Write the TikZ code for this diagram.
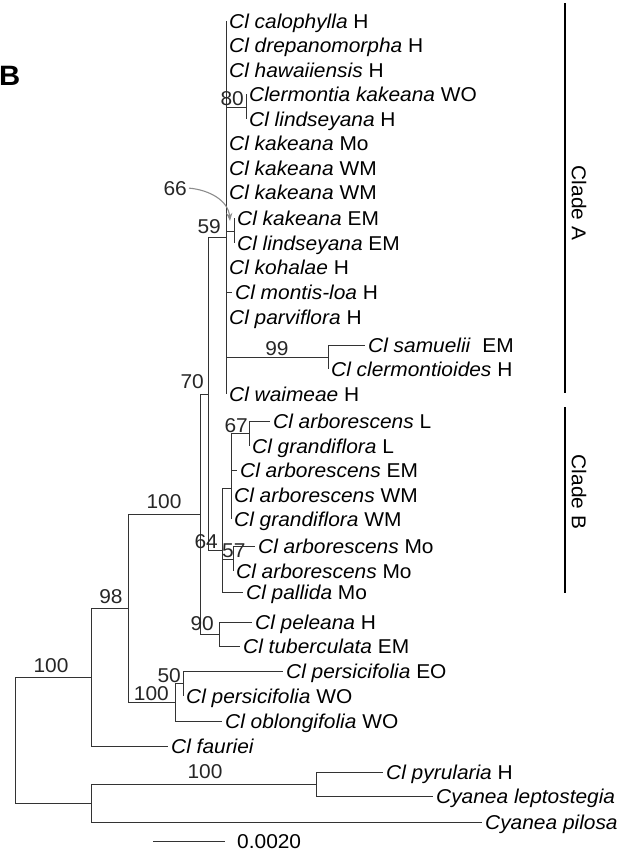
\documentclass[tikz,border=0pt]{standalone}
\usepackage{fontspec}
\setmainfont{Liberation Sans}[FakeStretch=1.045]
\usetikzlibrary{arrows.meta}

\begin{document}
\begin{tikzpicture}[x=1pt, y=-1pt,
    font=\fontsize{20}{23}\selectfont,
    branch/.style={line width=0.9pt, black!80},
    leaf/.style={anchor=base west, inner sep=0pt, xshift=3pt, yshift=-7pt},
    boot/.style={inner sep=0pt, black!85},
    cladebar/.style={line width=1.6pt, black}]
\useasboundingbox (0,0) rectangle (629,852);

% Internal nodes
\coordinate (root)   at (15,740);
\coordinate (ing)    at (91,677);
\coordinate (outg)   at (91,803);
\coordinate (n98)    at (128,608);
\coordinate (nP)     at (175,702);
\coordinate (n50)    at (183,683);
\coordinate (nAB)    at (200,514);
\coordinate (n90)    at (219,634);
\coordinate (n70)    at (208,394);
\coordinate (cladeA) at (226,237);
\coordinate (n80)    at (246,107);
\coordinate (n66)    at (234,231);
\coordinate (n99)    at (328,357);
\coordinate (cladeB) at (222,550);
\coordinate (nB1)    at (231,488);
\coordinate (n67)    at (249,433);
\coordinate (n57)    at (233,559);
\coordinate (nPL)    at (316,784);

% Tips
\coordinate (calo)   at (226,21);
\coordinate (drep)   at (226,45);
\coordinate (hawa)   at (226,70);
\coordinate (kakWO)  at (246,94);
\coordinate (lindH)  at (246,119);
\coordinate (kakMo)  at (226,143);
\coordinate (kakWMa) at (226,168);
\coordinate (kakWMb) at (226,192);
\coordinate (kakEM)  at (234,218);
\coordinate (lindEM) at (234,243);
\coordinate (koha)   at (226,267);
\coordinate (mont)   at (232,292);
\coordinate (parv)   at (226,317);
\coordinate (samu)   at (365,345);
\coordinate (cler)   at (328,369);
\coordinate (waim)   at (226,394);
\coordinate (arbL)   at (270,421);
\coordinate (graL)   at (249,446);
\coordinate (arbEM)  at (237,470);
\coordinate (arbWM)  at (231,495);
\coordinate (graWM)  at (231,519);
\coordinate (arbMoa) at (255,546);
\coordinate (arbMob) at (233,571);
\coordinate (pall)   at (243,592);
\coordinate (pele)   at (252,622);
\coordinate (tube)   at (240,646);
\coordinate (persEO) at (283,671);
\coordinate (persWO) at (183,696);
\coordinate (oblo)   at (222,721);
\coordinate (faur)   at (168,746);
\coordinate (pyru)   at (383,772);
\coordinate (lept)   at (433,796);
\coordinate (pilo)   at (482,822);

% Branches
\draw[branch] (root) |- (ing) (root) |- (outg)
    (ing) |- (n98) (ing) |- (faur)
    (n98) |- (nAB) (n98) |- (nP)
    (nP) |- (n50) (nP) |- (oblo)
    (n50) |- (persEO) (n50) |- (persWO)
    (nAB) |- (n70) (nAB) |- (n90)
    (n90) |- (pele) (n90) |- (tube)
    (n70) |- (cladeA) (n70) |- (cladeB);
\draw[branch] (cladeA) |- (calo) (cladeA) |- (drep) (cladeA) |- (hawa)
    (cladeA) |- (n80) (cladeA) |- (kakMo) (cladeA) |- (kakWMa)
    (cladeA) |- (kakWMb) (cladeA) |- (n66) (cladeA) |- (koha)
    (cladeA) |- (mont) (cladeA) |- (parv) (cladeA) |- (n99)
    (cladeA) |- (waim)
    (n80) |- (kakWO) (n80) |- (lindH)
    (n66) |- (kakEM) (n66) |- (lindEM)
    (n99) |- (samu) (n99) |- (cler);
\draw[branch] (cladeB) |- (nB1) (cladeB) |- (n57) (cladeB) |- (pall)
    (nB1) |- (n67) (nB1) |- (arbEM) (nB1) |- (arbWM) (nB1) |- (graWM)
    (n67) |- (arbL) (n67) |- (graL)
    (n57) |- (arbMoa) (n57) |- (arbMob);
\draw[branch] (outg) |- (nPL) (outg) |- (pilo)
    (nPL) |- (pyru) (nPL) |- (lept);

% Tip labels
\node[leaf] (calo-t)   at (calo)   {\textit{Cl calophylla} H};
\node[leaf] (drep-t)   at (drep)   {\textit{Cl drepanomorpha} H};
\node[leaf] (hawa-t)   at (hawa)   {\textit{Cl hawaiiensis} H};
\node[leaf] (kakWO-t)  at (kakWO)  {\textit{Clermontia kakeana} WO};
\node[leaf] (lindH-t)  at (lindH)  {\textit{Cl lindseyana} H};
\node[leaf] (kakMo-t)  at (kakMo)  {\textit{Cl kakeana} Mo};
\node[leaf] (kakWMa-t) at (kakWMa) {\textit{Cl kakeana} WM};
\node[leaf] (kakWMb-t) at (kakWMb) {\textit{Cl kakeana} WM};
\node[leaf] (kakEM-t)  at (kakEM)  {\textit{Cl kakeana} EM};
\node[leaf] (lindEM-t) at (lindEM) {\textit{Cl lindseyana} EM};
\node[leaf] (koha-t)   at (koha)   {\textit{Cl kohalae} H};
\node[leaf] (mont-t)   at (mont)   {\textit{Cl montis-loa} H};
\node[leaf] (parv-t)   at (parv)   {\textit{Cl parviflora} H};
\node[leaf] (samu-t)   at (samu)   {\textit{Cl samuelii}~~EM};
\node[leaf] (cler-t)   at (cler)   {\textit{Cl clermontioides} H};
\node[leaf] (waim-t)   at (waim)   {\textit{Cl waimeae} H};
\node[leaf] (arbL-t)   at (arbL)   {\textit{Cl arborescens} L};
\node[leaf] (graL-t)   at (graL)   {\textit{Cl grandiflora} L};
\node[leaf] (arbEM-t)  at (arbEM)  {\textit{Cl arborescens} EM};
\node[leaf] (arbWM-t)  at (arbWM)  {\textit{Cl arborescens} WM};
\node[leaf] (graWM-t)  at (graWM)  {\textit{Cl grandiflora} WM};
\node[leaf] (arbMoa-t) at (arbMoa) {\textit{Cl arborescens} Mo};
\node[leaf] (arbMob-t) at (arbMob) {\textit{Cl arborescens} Mo};
\node[leaf] (pall-t)   at (pall)   {\textit{Cl pallida} Mo};
\node[leaf] (pele-t)   at (pele)   {\textit{Cl peleana} H};
\node[leaf] (tube-t)   at (tube)   {\textit{Cl tuberculata} EM};
\node[leaf] (persEO-t) at (persEO) {\textit{Cl persicifolia} EO};
\node[leaf] (persWO-t) at (persWO) {\textit{Cl persicifolia} WO};
\node[leaf] (oblo-t)   at (oblo)   {\textit{Cl oblongifolia} WO};
\node[leaf] (faur-t)   at (faur)   {\textit{Cl fauriei}};
\node[leaf] (pyru-t)   at (pyru)   {\textit{Cl pyrularia} H};
\node[leaf] (lept-t)   at (lept)   {\textit{Cyanea leptostegia}};
\node[leaf] (pilo-t)   at (pilo)   {\textit{Cyanea pilosa}};

% Bootstrap values
\node[boot, anchor=base east] (b80)  at (244,105) {80};
\node[boot, anchor=base east] (b59)  at (221,233) {59};
\node[boot, anchor=base east] (b66)  at (187,195) {66};
\node[boot, anchor=base east] (b70)  at (204,388) {70};
\node[boot, anchor=base]      (b99)  at (277,355) {99};
\node[boot, anchor=base east] (b67)  at (248,432) {67};
\node[boot, anchor=base east] (b64)  at (218,548) {64};
\node[boot, anchor=base west] (b57)  at (222,557) {57};
\node[boot, anchor=base east] (b90)  at (214,630) {90};
\node[boot, anchor=base]      (bAB)  at (164,508) {100};
\node[boot, anchor=base]      (b98)  at (111,603) {98};
\node[boot, anchor=base east] (bP)   at (169,700) {100};
\node[boot, anchor=base east] (b50)  at (181,682) {50};
\node[boot, anchor=base]      (bIng) at (51,672)  {100};
\node[boot, anchor=base]      (bOut) at (205,778) {100};

% Pointer for the 66 value
\coordinate (n66tip) at (230,221);
\draw[-{Stealth[length=8pt,width=6pt]}, line width=1.1pt, black!45]
    ([xshift=2pt]b66.east) to[out=-5, in=95] (n66tip);

% Clade bars
\coordinate (cA-top) at (565,3);
\coordinate (cA-bot) at (565,393);
\coordinate (cB-top) at (565,407);
\coordinate (cB-bot) at (565,593);
\draw[cladebar] (cA-top) -- (cA-bot);
\draw[cladebar] (cB-top) -- (cB-bot);
\node[rotate=-90, inner sep=0pt] (cA-t) at (579,203) {Clade A};
\node[rotate=-90, inner sep=0pt] (cB-t) at (579,492) {Clade B};

% Scale bar and panel letter
\coordinate (sb-l) at (153,841);
\coordinate (sb-r) at (225,841);
\draw[branch] (sb-l) -- (sb-r);
\node[anchor=base west, inner sep=0pt] (sb-t) at (237,848) {0.0020};
\node[anchor=base west, inner sep=0pt, font=\fontsize{28}{30}\selectfont\bfseries]
    (panel) at (-1,85) {B};
\end{tikzpicture}
\end{document}
